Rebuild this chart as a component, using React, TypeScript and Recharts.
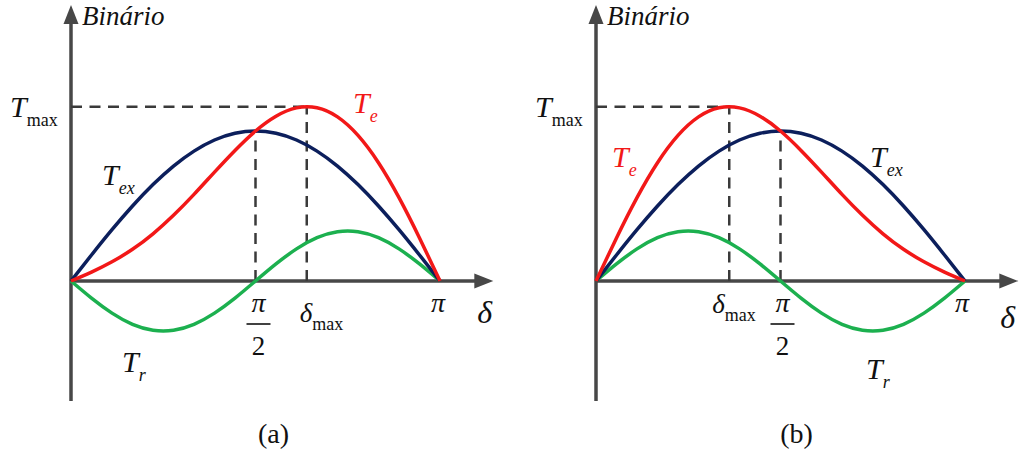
import React from 'react';
import { LineChart, Line, XAxis, YAxis, ReferenceLine, ReferenceDot } from 'recharts';

// load angle δ in degrees, torque in arbitrary units
const ANGLE = [0, 10, 20, 30, 40, 50, 60, 70, 80, 90, 100, 110, 120, 130, 140, 150, 160, 170, 180];
const T_EX = [0, 26.0, 51.3, 75.0, 96.4, 114.9, 129.9, 141.0, 147.7, 150, 147.7, 141.0, 129.9, 114.9, 96.4, 75.0, 51.3, 26.0, 0];

// (a) reluctance torque negative before π/2
const T_R_A = [0, -17.1, -32.1, -43.3, -49.2, -49.2, -43.3, -32.1, -17.1, 0, 17.1, 32.1, 43.3, 49.2, 49.2, 43.3, 32.1, 17.1, 0];
const T_E_A = [0, 8.9, 19.2, 31.7, 47.2, 65.7, 86.6, 108.9, 130.6, 150, 164.8, 173.1, 173.2, 164.1, 145.6, 118.3, 83.4, 43.1, 0];

// (b) reluctance torque positive before π/2
const T_R_B = [0, 17.1, 32.1, 43.3, 49.2, 49.2, 43.3, 32.1, 17.1, 0, -17.1, -32.1, -43.3, -49.2, -49.2, -43.3, -32.1, -17.1, 0];
const T_E_B = [0, 43.1, 83.4, 118.3, 145.6, 164.1, 173.2, 173.1, 164.8, 150, 130.6, 108.9, 86.6, 65.7, 47.2, 31.7, 19.2, 8.9, 0];

const T_MAX = 174.2;
const DELTA_MAX_A = 115;
const DELTA_MAX_B = 65;
const HALF_PI = 90;
const PI = 180;

const SERIF = "'Liberation Serif', 'Times New Roman', serif";
const INK = '#111';
const AXIS = '#474747';
const DASH = '#3a3a3a';
const NAVY = '#0c1f5c';
const RED = '#f21818';
const GREEN = '#1cb04f';

const H = 457;
const PX_PER_DEG = 2.05;
const ORIGIN_Y = 281;
const X_TIP = 206;
const Y_TIP = 276;
const Y_BOTTOM = -120;

type Pt = [number, number];

const serif = (size: number, italic = false): React.CSSProperties => ({
  fontFamily: SERIF,
  fontSize: size,
  fontStyle: italic ? 'italic' : 'normal',
});

// text or glyph anchored at a data point
const tag = (key: string, x: number, y: number, draw: (cx: number, cy: number) => React.ReactNode) => (
  <ReferenceDot
    key={key}
    x={x}
    y={y}
    r={0}
    ifOverflow="visible"
    shape={(p: any) => <g>{draw(p.cx, p.cy)}</g>}
  />
);

const symbol = (main: string, sub: string, color: string, subItalic = true) => (cx: number, cy: number) => (
  <text x={cx} y={cy} fill={color} style={{ fontFamily: SERIF }}>
    <tspan style={serif(30, true)}>{main}</tspan>
    <tspan style={serif(18, subItalic)} dy={9}>{sub}</tspan>
  </text>
);

const seg = (key: string, a: Pt, b: Pt, dashed: boolean) => (
  <ReferenceLine
    key={key}
    segment={[{ x: a[0], y: a[1] }, { x: b[0], y: b[1] }]}
    stroke={dashed ? DASH : AXIS}
    strokeWidth={dashed ? 2.5 : 3.5}
    strokeDasharray={dashed ? '11 7.5' : undefined}
    ifOverflow="visible"
  />
);

interface PanelProps {
  left: number;
  width: number;
  originX: number;
  te: number[];
  tr: number[];
  deltaMax: number;
  caption: string;
  texAt: Pt;
  teAt: Pt;
  trAt: Pt;
  dMaxOff: Pt;
  halfOff: number;
  piOff: number;
  deltaOff: Pt;
  capOff: number;
}

function Panel(p: PanelProps) {
  const rows = ANGLE.map((a, i) => ({ a, tex: T_EX[i], te: p.te[i], tr: p.tr[i] }));
  const xDomain = [-p.originX / PX_PER_DEG, (p.width - p.originX) / PX_PER_DEG];
  const yDomain = [ORIGIN_Y - H, ORIGIN_Y];
  const texPeak = T_EX[ANGLE.indexOf(HALF_PI)];

  return (
    <div style={{ position: 'absolute', left: p.left, top: 0 }}>
      <LineChart width={p.width} height={H} data={rows} margin={{ top: 0, right: 0, bottom: 0, left: 0 }}>
        <XAxis type="number" dataKey="a" domain={xDomain} hide allowDataOverflow />
        <YAxis type="number" domain={yDomain} hide allowDataOverflow />

        {seg('yaxis', [0, Y_BOTTOM], [0, Y_TIP - 14], false)}
        {seg('xaxis', [0, 0], [X_TIP - 7, 0], false)}
        {tag('ytip', 0, Y_TIP, (cx, cy) => (
          <polygon points={`${cx},${cy} ${cx - 7.5},${cy + 19} ${cx + 7.5},${cy + 19}`} fill={AXIS} />
        ))}
        {tag('xtip', X_TIP, 0, (cx, cy) => (
          <polygon points={`${cx},${cy} ${cx - 19},${cy - 7.5} ${cx - 19},${cy + 7.5}`} fill={AXIS} />
        ))}

        {seg('tmax', [0, T_MAX], [p.deltaMax, T_MAX], true)}
        {seg('dmax', [p.deltaMax, 0], [p.deltaMax, T_MAX], true)}
        {seg('half', [HALF_PI, 0], [HALF_PI, texPeak], true)}

        <Line type="natural" dataKey="tr" stroke={GREEN} strokeWidth={3.5} dot={false} activeDot={false} isAnimationActive={false} />
        <Line type="natural" dataKey="tex" stroke={NAVY} strokeWidth={3.5} dot={false} activeDot={false} isAnimationActive={false} />
        <Line type="natural" dataKey="te" stroke={RED} strokeWidth={3.5} dot={false} activeDot={false} isAnimationActive={false} />

        {tag('bin', 0, Y_TIP, (cx, cy) => (
          <text x={cx + 11} y={cy + 20} style={serif(27, true)} fill={INK}>Binário</text>
        ))}
        {tag('tmaxl', 0, T_MAX, (cx, cy) => symbol('T', 'max', INK, false)(cx - 61, cy + 10))}
        {tag('texl', p.texAt[0], p.texAt[1], symbol('T', 'ex', INK))}
        {tag('tel', p.teAt[0], p.teAt[1], symbol('T', 'e', RED))}
        {tag('trl', p.trAt[0], p.trAt[1], symbol('T', 'r', INK))}

        {tag('dmaxl', p.deltaMax, 0, (cx, cy) => (
          <text x={cx + p.dMaxOff[0]} y={cy + p.dMaxOff[1]} fill={INK} style={{ fontFamily: SERIF }}>
            <tspan style={serif(27, true)}>δ</tspan>
            <tspan style={serif(18)} dy={8}>max</tspan>
          </text>
        ))}
        {tag('halfl', HALF_PI, 0, (cx, cy) => (
          <g fill={INK}>
            <text x={cx + p.halfOff} y={cy + 31} style={serif(28, true)} textAnchor="middle">π</text>
            <line x1={cx + p.halfOff - 12} x2={cx + p.halfOff + 12} y1={cy + 43} y2={cy + 43} stroke={INK} strokeWidth={1.6} />
            <text x={cx + p.halfOff} y={cy + 74} style={serif(27)} textAnchor="middle">2</text>
          </g>
        ))}
        {tag('pil', PI, 0, (cx, cy) => (
          <text x={cx + p.piOff} y={cy + 31} style={serif(28, true)} textAnchor="middle" fill={INK}>π</text>
        ))}
        {tag('deltal', X_TIP, 0, (cx, cy) => (
          <text x={cx + p.deltaOff[0]} y={cy + p.deltaOff[1]} style={serif(32, true)} fill={INK}>δ</text>
        ))}
        {tag('cap', HALF_PI, -162, (cx, cy) => (
          <text x={cx + p.capOff} y={cy} style={serif(28)} textAnchor="middle" fill={INK}>{p.caption}</text>
        ))}
      </LineChart>
    </div>
  );
}

export default function App() {
  return (
    <div style={{ position: 'absolute', left: 0, top: 0, width: 1019, height: H, background: '#fff', overflow: 'hidden' }}>
      <Panel
        left={0}
        width={509}
        originX={71}
        te={T_E_A}
        tr={T_R_A}
        deltaMax={DELTA_MAX_A}
        caption="(a)"
        texAt={[15.1, 96]}
        teAt={[137.6, 168]}
        trAt={[24.9, -91]}
        dMaxOff={[-7, 41]}
        halfOff={3}
        piOff={-2}
        deltaOff={[-16, 42]}
        capOff={18}
      />
      <Panel
        left={509}
        width={510}
        originX={87}
        te={T_E_B}
        tr={T_R_B}
        deltaMax={DELTA_MAX_B}
        caption="(b)"
        texAt={[133.7, 114]}
        teAt={[7.8, 114]}
        trAt={[131.7, -98]}
        dMaxOff={[-17, 32]}
        halfOff={2}
        piOff={-3}
        deltaOff={[-18, 47]}
        capOff={16}
      />
    </div>
  );
}
